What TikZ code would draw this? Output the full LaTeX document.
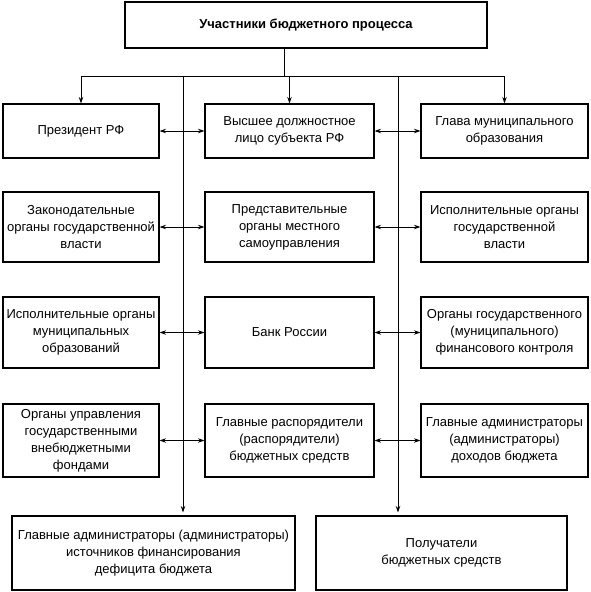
\documentclass[tikz,border=0pt]{standalone}
\usepackage{fontspec}
\setmainfont{Liberation Sans}
\usepackage{tikz}
\usetikzlibrary{arrows.meta, positioning, calc}
\tikzstyle{unit} = [draw, line width=1.1pt, align=center, inner sep=1pt, font=\fontsize{13}{17}\selectfont]
\tikzstyle{arrow} = [line width=0.9pt, ->, >={Stealth[length=6.5pt, width=4.5pt]}]
\tikzstyle{twoway} = [line width=0.9pt, <->, >={Stealth[length=6.5pt, width=4.5pt]}]

\begin{document}
\begin{tikzpicture}[x=1pt, y=-1pt]
  \useasboundingbox (0,0) rectangle (590,592);

  % head of the chart
  \node[unit, minimum width=362pt, minimum height=46pt, font=\fontsize{13}{17}\selectfont\bfseries] (participants) at (306,25) {Участники бюджетного процесса};

  % row 1
  \node[unit, minimum width=156pt, minimum height=54pt] (president) at (81,131) {Президент РФ};
  \node[unit, minimum width=169pt, minimum height=54pt] (governor) at (289.5,131) {Высшее должностное\\лицо субъекта РФ};
  \node[unit, minimum width=167pt, minimum height=54pt] (mayor) at (504.5,131) {Глава муниципального\\образования};

  % row 2
  \node[unit, minimum width=156pt, minimum height=70pt] (legis) at (81,227) {Законодательные\\органы государственной\\власти};
  \node[unit, minimum width=169pt, minimum height=70pt] (council) at (289.5,227) {Представительные\\органы местного\\самоуправления};
  \node[unit, minimum width=167pt, minimum height=70pt] (govexec) at (504.5,227) {Исполнительные органы\\государственной\\власти};

  % row 3
  \node[unit, minimum width=156pt, minimum height=71pt] (munexec) at (81,332.5) {Исполнительные органы\\муниципальных\\образований};
  \node[unit, minimum width=169pt, minimum height=71pt] (bank) at (289.5,332.5) {Банк России};
  \node[unit, minimum width=167pt, minimum height=71pt] (control) at (504.5,332.5) {Органы государственного\\(муниципального)\\финансового контроля};

  % row 4
  \node[unit, minimum width=156pt, minimum height=73pt] (funds) at (81,440.5) {Органы управления\\государственными\\внебюджетными\\фондами};
  \node[unit, minimum width=169pt, minimum height=73pt] (managers) at (289.5,440.5) {Главные распорядители\\(распорядители)\\бюджетных средств};
  \node[unit, minimum width=167pt, minimum height=73pt] (revenue) at (504.5,440.5) {Главные администраторы\\(администраторы)\\доходов бюджета};

  % bottom row
  \node[unit, minimum width=283pt, minimum height=74pt] (deficit) at (153.5,553) {Главные администраторы (администраторы)\\источников финансирования\\дефицита бюджета};
  \node[unit, minimum width=251pt, minimum height=74pt] (recipients) at (441.5,553) {Получатели\\бюджетных средств};

  % branching from the head
  \coordinate (hub) at (284,76);
  \coordinate (lline) at (183,76);
  \coordinate (rline) at (398,76);
  \draw[line width=0.9pt] (participants.south -| hub) -- (hub);
  \draw[arrow] (hub) -| (president.north);
  \draw[arrow] (hub) -| (mayor.north);
  \draw[arrow] (governor.north |- hub) -- (governor.north);

  % the two long lines
  \draw[arrow, shorten >=3pt] (lline) -- (lline |- deficit.north);
  \draw[arrow, shorten >=3pt] (rline) -- (rline |- recipients.north);

  % links inside the rows
  \foreach \a/\b/\c in {president/governor/mayor, legis/council/govexec, munexec/bank/control, funds/managers/revenue} {
    \draw[twoway] (\a) -- (\b);
    \draw[twoway] (\b) -- (\c);
  }
\end{tikzpicture}
\end{document}
